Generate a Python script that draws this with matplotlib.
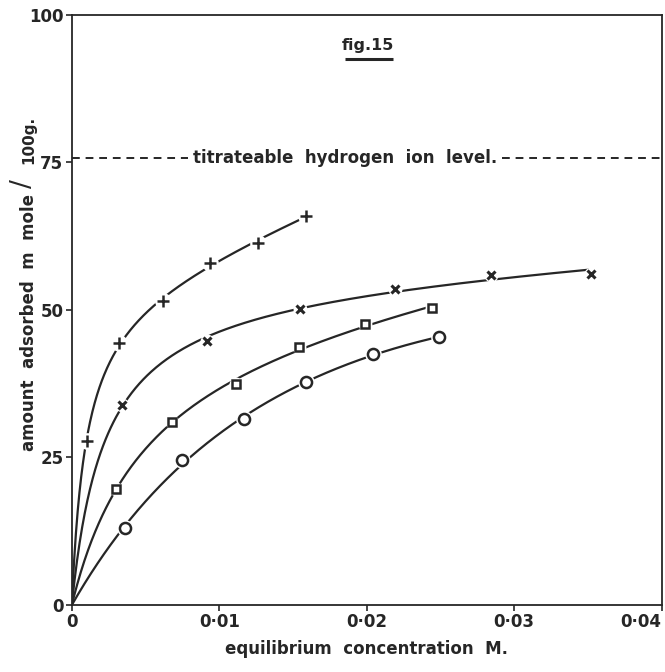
import matplotlib
matplotlib.use("Agg")
import matplotlib.pyplot as plt
import numpy as np

# data (x: equilibrium conc. M, y: m mole / 100 g)
plus_x = [0.0010, 0.0032, 0.0062, 0.0094, 0.0126, 0.0159]
plus_y = [27.8, 44.4, 51.5, 57.9, 61.4, 66.0]
cross_x = [0.0034, 0.0092, 0.0155, 0.0219, 0.0284, 0.0352]
cross_y = [33.9, 44.7, 50.2, 53.6, 55.9, 56.1]
square_x = [0.0030, 0.0068, 0.0111, 0.0154, 0.0199, 0.0244]
square_y = [19.7, 31.0, 37.5, 43.7, 47.6, 50.3]
circle_x = [0.0036, 0.0075, 0.0117, 0.0159, 0.0204, 0.0249]
circle_y = [13.0, 24.6, 31.5, 37.8, 42.5, 45.4]

titratable_level = 75.8

x_ticks = [0, 0.01, 0.02, 0.03, 0.04]
x_tick_labels = ["0", "0·01", "0·02", "0·03", "0·04"]
y_ticks = [0, 25, 50, 75, 100]

INK = "#262626"
FONT = "DejaVu Sans"


def smooth_curve(x, y, xs):
    """Langmuir + linear curve through the origin, fitted to the points.
    Stands in for the hand drawn line.
    """
    x = np.asarray(x, float)
    y = np.asarray(y, float)
    best = None
    for b in np.logspace(1, 4.5, 400):
        basis = lambda t: np.column_stack([t / (1 + b * t), t])
        coef, *_ = np.linalg.lstsq(basis(x), y, rcond=None)
        err = np.sum((basis(x) @ coef - y) ** 2)
        if best is None or err < best[0]:
            best = (err, b, coef)
    _, b, coef = best
    return np.column_stack([xs / (1 + b * xs), xs]) @ coef


fig = plt.figure(figsize=(6.65, 6.72), dpi=100)
ax = fig.add_axes([0.108, 0.0997, 0.887, 0.878])

series = [
    (plus_x, plus_y, "+", 8, 1.8),
    (cross_x, cross_y, "x", 6, 2.2),
    (square_x, square_y, "s", 6, 1.8),
    (circle_x, circle_y, "o", 8, 1.8),
]
for xs_, ys_, mk, ms, mw in series:
    xx = np.linspace(0, xs_[-1], 400)
    ax.plot(xx, smooth_curve(xs_, ys_, xx), color=INK, lw=1.6, zorder=2)
    # white patch behind each marker gives the broken-line look
    ax.plot(xs_, ys_, ls="none", marker="o", ms=ms + 4,
            mfc="white", mec="none", zorder=3)
    ax.plot(xs_, ys_, ls="none", marker=mk, ms=ms, mfc="white",
            mec=INK, mew=mw, zorder=4)

# titrateable hydrogen level, dashed on both sides of the text
ax.plot([0, 0.0079], [titratable_level] * 2, ls=(0, (4, 3)), color=INK, lw=1.4)
ax.plot([0.0292, 0.04], [titratable_level] * 2, ls=(0, (4, 3)), color=INK, lw=1.4)
ax.text(0.01855, titratable_level, "titrateable  hydrogen  ion  level.",
        ha="center", va="center", fontsize=12, fontweight="bold",
        color=INK, family=FONT)

ax.text(0.0201, 94.9, "fig.15", ha="center", va="center", fontsize=11.5,
        fontweight="bold", color=INK, family=FONT)
ax.plot([0.0185, 0.0218], [92.6, 92.6], color=INK, lw=2.2,
        solid_capstyle="butt")

ax.set_xlim(0, 0.04)
ax.set_ylim(0, 100)
ax.set_xticks(x_ticks)
ax.set_xticklabels(x_tick_labels)
ax.set_yticks(y_ticks)
ax.tick_params(direction="out", length=4, width=1.2, color=INK,
               labelsize=12, labelcolor=INK, pad=2)
for lab in ax.get_xticklabels() + ax.get_yticklabels():
    lab.set_fontweight("bold")
    lab.set_family(FONT)
ax.get_xticklabels()[-1].set_horizontalalignment("right")
ax.get_xticklabels()[-1].set_x(0.0403)
for sp in ax.spines.values():
    sp.set_linewidth(1.3)
    sp.set_color(INK)

ax.set_xlabel("equilibrium  concentration  M.", fontsize=12,
              fontweight="bold", color=INK, family=FONT, labelpad=6)

# y label in three pieces, with a large slash
fig.text(29 / 665, 1 - 322 / 672, "amount  adsorbed  m  mole", rotation=90,
         ha="center", va="center", fontsize=12, fontweight="bold",
         color=INK, family=FONT)
fig.text(23 / 665, 1 - 184 / 672, "/", rotation=90, ha="center", va="center",
         fontsize=19, color=INK, family=FONT)
fig.text(29 / 665, 1 - 140 / 672, "100g.", rotation=90, ha="center",
         va="center", fontsize=11, fontweight="bold", color=INK, family=FONT)

fig.savefig("out.png", dpi=100)
